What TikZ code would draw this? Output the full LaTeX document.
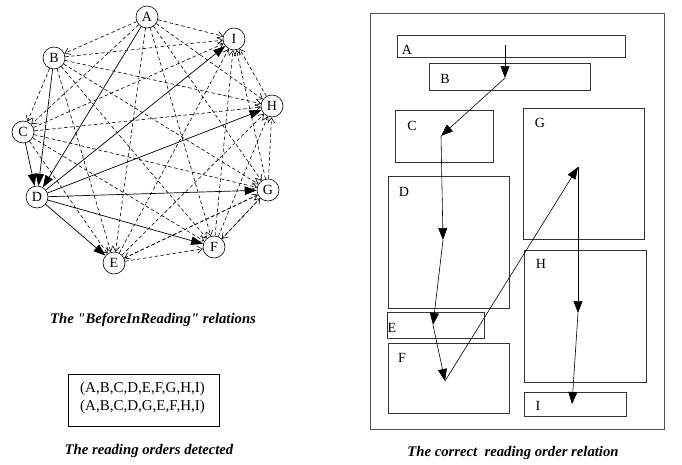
\documentclass[tikz,border=0pt]{standalone}
\usepackage{fontspec}
\setmainfont{Liberation Serif}
\usetikzlibrary{arrows.meta}
\begin{document}
\begin{tikzpicture}[x=1pt,y=-1pt,
  gnode/.style={draw,circle,minimum size=22pt,inner sep=0pt,line width=0.6pt,font=\fontsize{14}{14}\selectfont},
  dep/.style={dash pattern=on 3.5pt off 2.5pt,line width=0.6pt,-{Straight Barb[length=5pt,width=7pt]}},
  sol/.style={line width=0.7pt,-{Triangle[length=12pt,width=8.5pt]}},
  box/.style={draw,line width=0.7pt,draw=black!80,inner sep=0pt},
  blabel/.style={font=\fontsize{14}{14}\selectfont,inner sep=0pt},
  flow/.style={line width=0.6pt,-{Triangle[length=12pt,width=9pt]}},
  caption/.style={font=\fontsize{14.7}{15}\selectfont\bfseries\itshape,inner sep=0pt}
]
\useasboundingbox (0,0) rectangle (682,464);
% ---------- graph ----------
\node[gnode] (A) at (147,17) {A};
\node[gnode] (I) at (234,39) {I};
\node[gnode] (B) at (54,58) {B};
\node[gnode] (H) at (272,106) {H};
\node[gnode] (C) at (23,132) {C};
\node[gnode] (G) at (268,190) {G};
\node[gnode] (D) at (37,197) {D};
\node[gnode] (F) at (214,247) {F};
\node[gnode] (E) at (114,263) {E};
\foreach \s/\t in {A/B,A/C,A/E,A/F,A/G,A/H,A/I,
                   B/C,B/E,B/F,B/G,B/H,B/I,
                   C/E,C/F,C/G,C/H,C/I,
                   E/F,E/G,E/H,E/I,
                   F/G,F/H,F/I,
                   G/H,G/I,G/E,G/F,
                   H/I}
  {\draw[dep] (\s) -- (\t);}
\foreach \s/\t in {A/D,B/D,C/D,D/E,D/F,D/G,D/H,D/I}
  {\draw[sol] (\s) -- (\t);}
\node[caption] (cap1) at (153,320) {The \textquotedbl BeforeInReading\textquotedbl{} relations};
% ---------- orders ----------
\node[draw,line width=0.7pt,minimum width=151pt,minimum height=52pt,inner sep=0pt] (ord) at (143.5,400) {};
\node[font=\fontsize{15}{18}\selectfont,align=left,inner sep=0pt,anchor=west] (ordtxt) at (80,398)
  {(A,B,C,D,E,F,G,H,I)\\(A,B,C,D,G,E,F,H,I)};
\node[caption] (cap2) at (149,451) {The reading orders detected};
% ---------- page layout ----------
\node[box,draw=black!70,minimum width=294pt,minimum height=416pt] (page) at (517,221) {};
\node[box,minimum width=228pt,minimum height=22pt] (rA) at (511,46) {};
\node[box,minimum width=161pt,minimum height=27pt] (rB) at (509.5,76.5) {};
\node[box,minimum width=98pt,minimum height=52pt] (rC) at (444,136) {};
\node[box,minimum width=121pt,minimum height=131pt] (rG) at (583.5,173.5) {};
\node[box,minimum width=121pt,minimum height=132pt] (rD) at (448.5,242) {};
\node[box,minimum width=97pt,minimum height=26pt] (rE) at (435.5,325) {};
\node[box,minimum width=121pt,minimum height=70pt] (rF) at (448.5,378) {};
\node[box,minimum width=122pt,minimum height=132pt] (rH) at (585,316) {};
\node[box,minimum width=102pt,minimum height=24pt] (rI) at (575,404) {};
\node[blabel] (lA) at (407,50) {A};
\node[blabel] (lB) at (445,79) {B};
\node[blabel] (lC) at (412,126) {C};
\node[blabel] (lG) at (540,123) {G};
\node[blabel] (lD) at (404,192) {D};
\node[blabel] (lE) at (392,328) {E};
\node[blabel] (lF) at (402,358) {F};
\node[blabel] (lH) at (541,264) {H};
\node[blabel] (lI) at (538,406) {I};
\coordinate (p1) at (505,45);
\coordinate (p2) at (505,78);
\coordinate (p3) at (441,136);
\coordinate (p4) at (443,240);
\coordinate (p5) at (433,325);
\coordinate (p6) at (445,381);
\coordinate (p7) at (578,167);
\coordinate (p8) at (578,313);
\coordinate (p9) at (572,404);
\draw[flow] (p1) -- (p2);
\draw[flow] (p2) -- (p3);
\draw[flow] (p3) -- (p4);
\draw[flow] (p4) -- (p5);
\draw[flow] (p5) -- (p6);
\draw[flow] (p6) -- (p7);
\draw[flow] (p7) -- (p8);
\draw[flow] (p8) -- (p9);
\node[caption] (cap3) at (513,453) {The correct\ \ reading order relation};
\end{tikzpicture}
\end{document}
